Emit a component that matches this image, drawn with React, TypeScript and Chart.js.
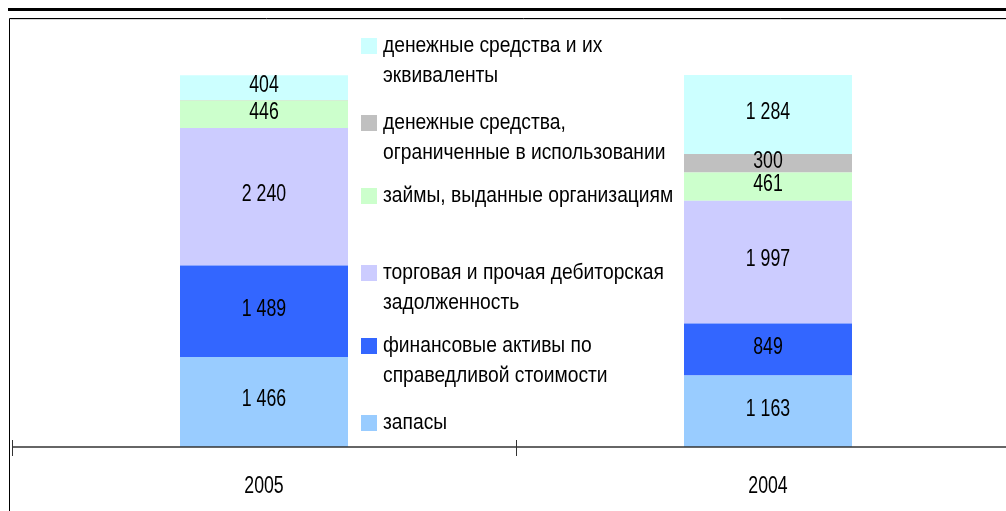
import React, { useEffect, useRef } from "react";
import { Chart, registerables } from "chart.js";

Chart.register(...registerables);

const categories = ["2005", "2004"];
const inventories = [1466, 1163];
const financialAssets = [1489, 849];
const receivables = [2240, 1997];
const loansIssued = [446, 461];
const restrictedCash = [7, 300];
const cashEquivalents = [404, 1284];

const seriesNames = [
  "запасы",
  "финансовые активы по справедливой стоимости",
  "торговая и прочая дебиторская задолженность",
  "займы, выданные организациям",
  "денежные средства, ограниченные в использовании",
  "денежные средства и их эквиваленты",
];
const legendLines = [
  ["запасы"],
  ["финансовые активы по", "справедливой стоимости"],
  ["торговая и прочая дебиторская", "задолженность"],
  ["займы, выданные организациям"],
  ["денежные средства,", "ограниченные в использовании"],
  ["денежные средства и их", "эквиваленты"],
];
const seriesColors = ["#99CCFF", "#3366FF", "#CCCCFF", "#CCFFCC", "#C0C0C0", "#CCFFFF"];
const yMax = 7000;

const FONT = "'Liberation Sans', Arial, sans-serif";

const fmt = (v: number) =>
  v >= 1000 ? `${Math.floor(v / 1000)} ${String(v % 1000).padStart(3, "0")}` : String(v);

function narrowText(ctx: CanvasRenderingContext2D, text: string, x: number, y: number, sx: number) {
  ctx.save();
  ctx.translate(x, y);
  ctx.scale(sx, 1);
  ctx.fillText(text, 0, 0);
  ctx.restore();
}

const decor = {
  id: "decor",
  beforeDraw(chart: any) {
    const ctx = chart.ctx;
    const W = chart.width;
    const H = chart.height;
    ctx.save();
    ctx.fillStyle = "#000";
    ctx.fillRect(0, 0, W, 3);
    ctx.strokeStyle = "#000";
    ctx.lineWidth = 1;
    ctx.beginPath();
    ctx.moveTo(1.5, H);
    ctx.lineTo(1.5, 10.5);
    ctx.lineTo(W, 10.5);
    ctx.stroke();
    ctx.strokeStyle = "#d8d8d8";
    ctx.beginPath();
    ctx.moveTo(2.5, 11.5);
    ctx.lineTo(W, 11.5);
    ctx.stroke();
    ctx.restore();
  },
  afterDatasetsDraw(chart: any) {
    const ctx = chart.ctx;
    const { left, right, bottom } = chart.chartArea;
    const xScale = chart.scales.x;
    const n = categories.length;
    const cw = (right - left) / n;
    ctx.save();
    // axis line
    ctx.strokeStyle = "#333";
    ctx.lineWidth = 1.5;
    ctx.beginPath();
    ctx.moveTo(left, bottom);
    ctx.lineTo(chart.width, bottom);
    ctx.stroke();
    ctx.lineWidth = 1;
    for (let k = 0; k <= n; k++) {
      const x = Math.round(left + k * cw) + 0.5;
      ctx.beginPath();
      ctx.moveTo(x, bottom - 7);
      ctx.lineTo(x, bottom + 9);
      ctx.stroke();
    }
    ctx.fillStyle = "#000";
    ctx.font = `23px ${FONT}`;
    ctx.textAlign = "center";
    ctx.textBaseline = "middle";
    // category labels, positioned by the x scale
    categories.forEach((c, i) => {
      narrowText(ctx, c, xScale.getPixelForTick(i), bottom + 40, 0.77);
    });
    // data labels
    chart.data.datasets.forEach((ds: any, i: number) => {
      const meta = chart.getDatasetMeta(i);
      meta.data.forEach((bar: any, j: number) => {
        const v = ds.data[j];
        if (v < 50) return;
        const p = bar.getProps(["x", "y", "base"], true);
        narrowText(ctx, fmt(v), p.x, (p.y + p.base) / 2 - 2, 0.77);
      });
    });
    // legend
    const markerTops = [407, 330, 257, 180, 107, 30];
    ctx.textAlign = "left";
    ctx.font = `22px ${FONT}`;
    legendLines.forEach((lines, i) => {
      const top = markerTops[i];
      ctx.fillStyle = seriesColors[i];
      ctx.fillRect(353, top, 16, 16);
      ctx.fillStyle = "#000";
      lines.forEach((t, li) => {
        narrowText(ctx, t, 375, top + 8 + li * 30, 0.875);
      });
    });
    ctx.restore();
  },
};

export default function App() {
  const ref = useRef<HTMLCanvasElement>(null);
  useEffect(() => {
    const seriesData = [inventories, financialAssets, receivables, loansIssued, restrictedCash, cashEquivalents];
    const chart = new Chart(ref.current as HTMLCanvasElement, {
      type: "bar",
      data: {
        labels: categories,
        datasets: seriesData.map((d, i) => ({
          label: seriesNames[i],
          data: d,
          backgroundColor: seriesColors[i],
          borderWidth: 0,
          categoryPercentage: 1,
          barPercentage: 1 / 3,
        })),
      },
      options: {
        responsive: false,
        animation: false,
        devicePixelRatio: 1,
        layout: { padding: { left: 4, right: 18, top: 9, bottom: 64 } },
        plugins: { legend: { display: false }, tooltip: { enabled: false } },
        scales: {
          x: {
            stacked: true,
            grid: { display: false, drawTicks: false },
            border: { display: false },
            ticks: { display: false },
          },
          y: {
            stacked: true,
            display: false,
            min: 0,
            max: yMax,
          },
        },
      },
      plugins: [decor],
    });
    return () => chart.destroy();
  }, []);
  return (
    <div style={{ position: "fixed", left: 8, top: 8, width: 998, height: 503, overflow: "hidden", background: "#fff" }}>
      <canvas ref={ref} width={1030} height={503} />
    </div>
  );
}
